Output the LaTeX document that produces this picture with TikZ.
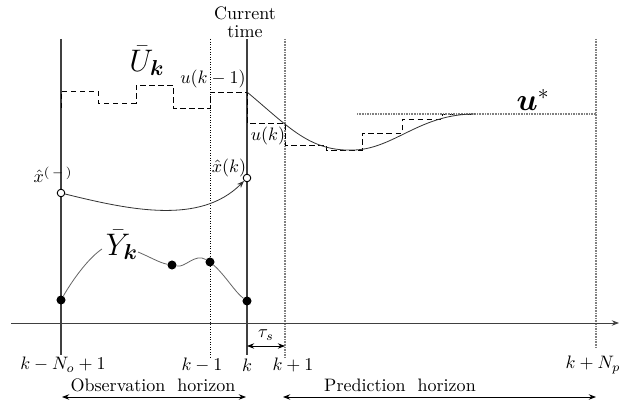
\documentclass[tikz,border=0pt]{standalone}
\usepackage{amsmath,bm}
\usetikzlibrary{arrows.meta}
\begin{document}
\begin{tikzpicture}[x=0.555pt,y=-0.555pt,
  solidline/.style={draw=black!75, line width=0.7pt},
  dotline/.style={draw=black, densely dotted, line width=0.4pt},
  graydot/.style={draw=black!50, dash pattern=on 0.45pt off 0.45pt, line width=1pt},
  stair/.style={draw=black, densely dashed, line width=0.5pt},
  curv/.style={draw=black!80, line width=0.45pt},
  openpt/.style={circle, draw=black, fill=white, inner sep=0pt, minimum size=4.2pt, line width=0.5pt},
  fullpt/.style={circle, fill=black, inner sep=0pt, minimum size=5pt},
  lbl/.style={inner sep=1pt},
  tip/.style={-{Stealth[length=4pt,width=3pt]}},
  dtip/.style={{Stealth[length=4pt,width=3pt]}-{Stealth[length=4pt,width=3pt]}}
]
\useasboundingbox (0,0) rectangle (637,405);

% vertical lines
\coordinate (a1) at (61,39);  \coordinate (a2) at (61,355);
\coordinate (b1) at (210,39); \coordinate (b2) at (210,357);
\coordinate (c1) at (247,39); \coordinate (c2) at (247,355);
\coordinate (d1) at (285,39); \coordinate (d2) at (285,357);
\coordinate (e1) at (596,39); \coordinate (e2) at (596,348);
\draw[solidline] (a1) -- (a2);
\draw[dotline] (b1) -- (b2);
\draw[solidline] (c1) -- (c2);
\draw[graydot] (d1) -- (d2);
\draw[graydot] (e1) -- (e2);

% time axis
\coordinate (ax1) at (11,323); \coordinate (ax2) at (619,323);
\draw[draw=black!75, line width=0.5pt, tip] (ax1) -- (ax2);

% staircase input
\draw[stair] (61,108) -- (61,91) -- (98,91) -- (98,103) -- (136,103) -- (136,85) -- (173,85) -- (173,108) -- (210,108)
  -- (210,92) -- (247,92) -- (247,123) -- (285,123) -- (285,145) -- (326,145) -- (326,150) -- (362,150)
  -- (362,133) -- (402,133) -- (402,119) -- (442,119) -- (442,114) -- (475,114);

% u* reference line
\coordinate (us1) at (357,114); \coordinate (us2) at (596,114);
\draw[graydot, line width=0.7pt] (us1) -- (us2);

% predicted input curve
\coordinate (uc0) at (247,92); \coordinate (uc1) at (355,150); \coordinate (uc2) at (475,114);
\draw[curv] (uc0) .. controls (290,128) and (310,152) .. (uc1) .. controls (395,148) and (420,114) .. (uc2);

% state estimate
\node[openpt] (xm) at (61,193) {};
\node[openpt] (xk) at (247,178) {};
\draw[curv, tip] (xm) .. controls (130,210) and (200,225) .. (xk);

% measurements
\node[fullpt] (y1) at (61,300) {};
\node[fullpt] (y2) at (172,265) {};
\node[fullpt] (y3) at (210,262) {};
\node[fullpt] (y4) at (247,301) {};
\coordinate (yg1) at (102,249);
\coordinate (yg2) at (138,252);
\draw[curv, draw=black!60] (y1) .. controls (75,276) and (90,257) .. (yg1);
\draw[curv, draw=black!60] (yg2) .. controls (150,257) and (160,263) .. (y2)
  .. controls (185,268) and (195,253) .. (y3) .. controls (225,275) and (235,292) .. (y4);

% tau_s
\coordinate (t1) at (247,346); \coordinate (t2) at (285,346);
\draw[line width=0.45pt, dtip] (t1) -- (t2);
\node[lbl] (tau) at (266,335) {$\tau_s$};

% horizons
\coordinate (o1) at (62,397); \coordinate (o2) at (246,397);
\coordinate (p1) at (283,397); \coordinate (p2) at (596,397);
\draw[line width=0.5pt, dtip] (o1) -- (o2);
\draw[line width=0.5pt, dtip] (p1) -- (p2);
\node[lbl] (obs) at (153,385) {Observation\ \ horizon};
\node[lbl] (pred) at (400,385) {Prediction\ \ horizon};

% bottom labels
\node[lbl] (l1) at (63,365) {$k-N_o+1$};
\node[lbl] (l2) at (202,365) {$k-1$};
\node[lbl] (l3) at (247,365) {$k$};
\node[lbl] (l4) at (293,365) {$k+1$};
\node[lbl] (l5) at (593,365) {$k+N_p$};

% other labels
\node[lbl, align=center] (ct) at (245,22) {Current\\[-2pt]time};
\node[lbl] (Ub) at (147,61) {\LARGE $\bar{U}_{\bm{k}}$};
\node[lbl] (Yb) at (122,245) {\LARGE $\bar{Y}_{\bm{k}}$};
\node[lbl] (ust) at (533,100) {\LARGE $\bm{u}^{*}$};
\node[lbl] (ukm) at (213,79) {$u(k-1)$};
\node[lbl] (uk) at (268,136) {$u(k)$};
\node[lbl] (xml) at (53,175) {$\hat{x}^{(\,-\,)}$};
\node[lbl] (xkl) at (229,168) {$\hat{x}(k)$};
\end{tikzpicture}
\end{document}
